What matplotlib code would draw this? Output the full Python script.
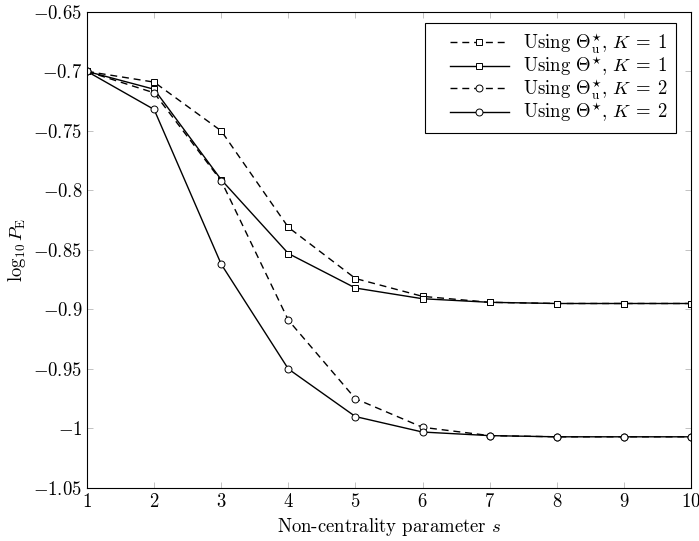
import numpy as np
import matplotlib
matplotlib.use("Agg")
import matplotlib.pyplot as plt
from matplotlib.legend_handler import HandlerLine2D

# Estilo parecido a pgfplots / LaTeX
plt.rcParams['font.family'] = ['cmr10', 'DejaVu Serif']
plt.rcParams['mathtext.fontset'] = 'cm'
plt.rcParams['axes.formatter.use_mathtext'] = True
plt.rcParams['font.size'] = 13.5

# Datos
s = [1, 2, 3, 4, 5, 6, 7, 8, 9, 10]
pe_u_k1 = [-0.700, -0.709, -0.750, -0.831, -0.874, -0.889, -0.894, -0.895, -0.895, -0.895]
pe_k1 = [-0.700, -0.715, -0.791, -0.853, -0.882, -0.891, -0.894, -0.895, -0.895, -0.895]
pe_u_k2 = [-0.700, -0.718, -0.792, -0.909, -0.975, -0.999, -1.006, -1.007, -1.007, -1.007]
pe_k2 = [-0.700, -0.732, -0.862, -0.950, -0.990, -1.003, -1.006, -1.007, -1.007, -1.007]

yticks = [-0.65, -0.7, -0.75, -0.8, -0.85, -0.9, -0.95, -1.0, -1.05]
ytick_labels = ['$-0.65$', '$-0.7$', '$-0.75$', '$-0.8$', '$-0.85$', '$-0.9$', '$-0.95$', '$-1$', '$-1.05$']

fig = plt.figure(figsize=(6.99, 5.41), dpi=100)
ax = fig.add_axes([0.1245, 0.098, 0.864, 0.880])

mk = dict(markersize=5, markerfacecolor='white', markeredgecolor='black', markeredgewidth=0.7, color='black', linewidth=1.0)
ax.plot(s, pe_u_k1, linestyle=(0, (5, 3.5)), marker='s', label=r'Using $\Theta_{\mathrm{u}}^{\star}$, $K\:=\:1$', **mk)
ax.plot(s, pe_k1, linestyle='-', marker='s', label=r'Using $\Theta^{\star}$, $K\:=\:1$', **mk)
ax.plot(s, pe_u_k2, linestyle=(0, (5, 3.5)), marker='o', label=r'Using $\Theta_{\mathrm{u}}^{\star}$, $K\:=\:2$', **mk)
ax.plot(s, pe_k2, linestyle='-', marker='o', label=r'Using $\Theta^{\star}$, $K\:=\:2$', **mk)

ax.set_xlim(1, 10)
ax.set_ylim(-1.05, -0.65)
ax.set_xticks(s)
ax.set_xticklabels(['$%d$' % v for v in s])
ax.set_yticks(yticks)
ax.set_yticklabels(ytick_labels)
ax.tick_params(direction='in', top=True, right=True, length=4, width=0.5, color='#aaaaaa')
for sp in ax.spines.values():
    sp.set_linewidth(0.8)

ax.set_xlabel('Non-centrality parameter $s$')
ax.set_ylabel(r'$\log_{10} P_{\mathrm{E}}$')

leg = ax.legend(loc='upper right', bbox_to_anchor=(0.975, 0.977), borderaxespad=0,
                fancybox=False, edgecolor='black', framealpha=1,
                handlelength=4.0, handletextpad=0.75, borderpad=0.45, labelspacing=-0.05,
                handler_map={matplotlib.lines.Line2D: HandlerLine2D(xpad=0.85)})
leg.get_frame().set_linewidth(0.8)

fig.savefig('out.png', dpi=100)
